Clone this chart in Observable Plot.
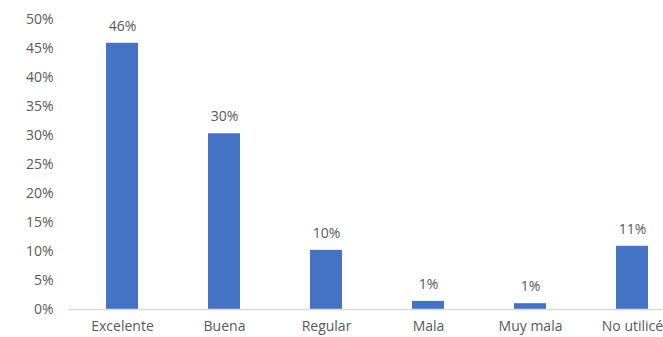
<!DOCTYPE html>
<html>
<head>
<meta charset="utf-8">
<script src="https://cdn.jsdelivr.net/npm/d3@7"></script>
<script src="https://cdn.jsdelivr.net/npm/@observablehq/plot@0.6"></script>
<style>
  html, body { margin: 0; padding: 0; background: white; overflow: hidden; }
</style>
</head>
<body>
<div id="chart"></div>
<script>
const categories = ["Excelente", "Buena", "Regular", "Mala", "Muy mala", "No utilicé"];
const values = [0.459, 0.303, 0.102, 0.014, 0.010, 0.109];
const valueLabels = ["46%", "30%", "10%", "1%", "1%", "11%"];
const yTicks = [0, 0.05, 0.10, 0.15, 0.20, 0.25, 0.30, 0.35, 0.40, 0.45, 0.50];

const data = categories.map((c, i) => ({category: c, value: values[i], label: valueLabels[i]}));

const chart = Plot.plot({
  width: 663,
  height: 337,
  marginLeft: 68,
  marginRight: 0,
  marginTop: 19,
  marginBottom: 28,
  style: {fontFamily: "'Open Sans', sans-serif", fontSize: "14px", color: "#595959", background: "white"},
  x: {domain: categories, range: [69.75, 684.75], paddingInner: 0.69, paddingOuter: 0.345, label: null},
  y: {domain: [0, 0.5], label: null},
  marks: [
    Plot.axisY({ticks: yTicks, tickFormat: d3.format(".0%"), tickSize: 0, tickPadding: 15, label: null, fill: "#595959"}),
    Plot.axisX({tickSize: 0, tickPadding: 12, label: null, fill: "#595959"}),
    Plot.barY(data, {x: "category", y: "value", fill: "#4472C4"}),
    Plot.ruleY([0], {stroke: "#d9d9d9", strokeWidth: 1.5}),
    Plot.text(data, {x: "category", y: "value", text: "label", dy: -17, fill: "#595959", fontSize: 14})
  ]
});
document.getElementById("chart").appendChild(chart);
</script>
</body>
</html>
